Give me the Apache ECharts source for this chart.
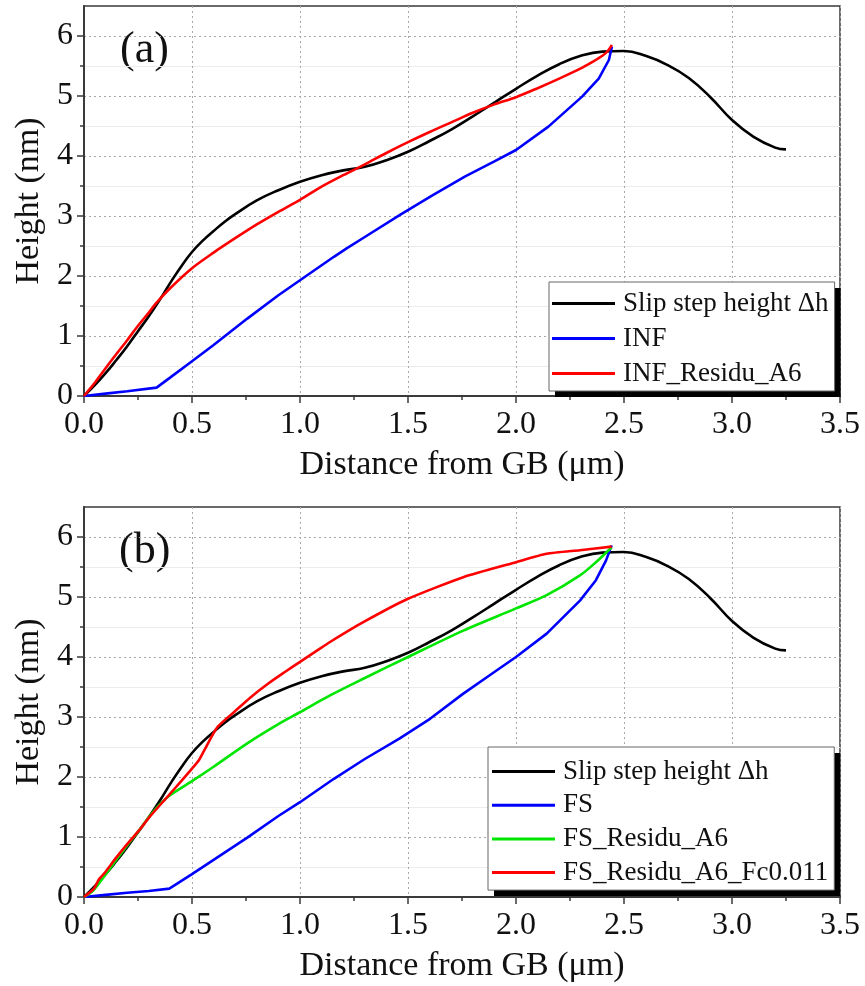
<!DOCTYPE html>
<html><head><meta charset="utf-8">
<script src="https://cdn.jsdelivr.net/npm/echarts@6/dist/echarts.min.js"></script>
<style>html,body{margin:0;padding:0;background:#fff}#c{width:865px;height:986px}</style>
</head><body><div id="c"></div>
<script>
// ---- data ----
const xTicks = [0, 0.5, 1.0, 1.5, 2.0, 2.5, 3.0, 3.5];
const yTicks = [0, 1, 2, 3, 4, 5, 6];
const panelLabels = ['(a)', '(b)'];
const xName = 'Distance from GB (\u03bcm)';
const yName = 'Height (nm)';
const namesA = ['Slip step height \u0394h', 'INF', 'INF_Residu_A6'];
const namesB = ['Slip step height \u0394h', 'FS', 'FS_Residu_A6', 'FS_Residu_A6_Fc0.011'];

const slipStep = [[0,0],[0.05,0.18],[0.1,0.38],[0.15,0.6],[0.2,0.83],[0.25,1.08],[0.3,1.33],[0.35,1.6],[0.4,1.89],[0.45,2.16],[0.5,2.4],[0.55,2.59],[0.6,2.75],[0.65,2.9],[0.7,3.03],[0.8,3.26],[0.9,3.43],[1.0,3.57],[1.1,3.68],[1.2,3.76],[1.3,3.82],[1.4,3.93],[1.5,4.07],[1.6,4.25],[1.7,4.44],[1.8,4.66],[1.9,4.89],[2.0,5.12],[2.1,5.34],[2.2,5.53],[2.3,5.67],[2.4,5.74],[2.5,5.75],[2.6,5.67],[2.7,5.52],[2.8,5.3],[2.9,4.98],[3.0,4.6],[3.1,4.32],[3.2,4.14],[3.25,4.11]];

const inf = [[0,0],[0.1,0.04],[0.2,0.08],[0.336,0.14],[0.4,0.31],[0.5,0.58],[0.6,0.85],[0.756,1.29],[0.9,1.68],[1.0,1.93],[1.157,2.32],[1.216,2.46],[1.3,2.65],[1.463,3.02],[1.611,3.34],[1.765,3.66],[1.9,3.91],[2.0,4.1],[2.15,4.49],[2.306,4.99],[2.383,5.29],[2.43,5.6],[2.444,5.82]];

const infResidu = [[0,0],[0.05,0.22],[0.093,0.43],[0.15,0.7],[0.2,0.93],[0.25,1.17],[0.3,1.39],[0.332,1.54],[0.4,1.8],[0.5,2.13],[0.6,2.39],[0.7,2.63],[0.8,2.86],[0.9,3.07],[1.0,3.27],[1.1,3.49],[1.2,3.68],[1.3,3.86],[1.4,4.05],[1.5,4.23],[1.6,4.4],[1.7,4.56],[1.8,4.72],[1.9,4.86],[2.0,4.98],[2.1,5.13],[2.2,5.29],[2.3,5.46],[2.35,5.56],[2.4,5.67],[2.425,5.75],[2.444,5.85]];

const fs = [[0,0],[0.1,0.035],[0.2,0.07],[0.3,0.1],[0.395,0.14],[0.5,0.38],[0.6,0.62],[0.756,0.99],[0.9,1.35],[1.0,1.58],[1.157,1.97],[1.3,2.3],[1.46,2.64],[1.602,2.97],[1.756,3.39],[1.9,3.75],[2.0,4.0],[2.142,4.39],[2.296,4.94],[2.37,5.28],[2.417,5.61],[2.443,5.86]];

const fsResidu = [[0,0],[0.04,0.1],[0.08,0.28],[0.15,0.62],[0.2,0.86],[0.255,1.11],[0.3,1.33],[0.355,1.56],[0.4,1.7],[0.5,1.93],[0.6,2.17],[0.756,2.56],[0.9,2.88],[1.0,3.08],[1.139,3.36],[1.3,3.65],[1.5,4.0],[1.756,4.44],[2.0,4.81],[2.142,5.03],[2.296,5.36],[2.37,5.58],[2.443,5.83]];

const fsResiduFc = [[0,0],[0.046,0.14],[0.07,0.3],[0.093,0.39],[0.15,0.66],[0.2,0.88],[0.255,1.11],[0.3,1.32],[0.386,1.67],[0.45,1.93],[0.5,2.14],[0.53,2.27],[0.556,2.44],[0.617,2.83],[0.694,3.08],[0.772,3.33],[0.85,3.55],[0.93,3.75],[1.0,3.92],[1.08,4.11],[1.139,4.25],[1.293,4.58],[1.5,4.97],[1.756,5.33],[2.0,5.58],[2.142,5.72],[2.296,5.78],[2.443,5.84]];

// ---- chart ----
const FONT = 'Liberation Serif';
const AX = '#3a3a3a';
const grids = [
  {left: 84, top: 6, width: 756, height: 390, show: true, borderColor: AX, borderWidth: 1.5, backgroundColor: 'transparent'},
  {left: 84, top: 507, width: 756, height: 390, show: true, borderColor: AX, borderWidth: 1.5, backgroundColor: 'transparent'}
];
function xAxis(g) {
  return {
    type: 'value', gridIndex: g, min: 0, max: 3.5, interval: 0.5,
    name: xName, nameLocation: 'middle', nameGap: 52,
    nameTextStyle: {fontFamily: FONT, fontSize: 34, color: '#111'},
    axisLine: {show: true, onZero: false, lineStyle: {color: AX, width: 2}},
    axisTick: {show: true, inside: false, length: 7, customValues: xTicks, lineStyle: {color: AX, width: 1.5}},
    minorTick: {show: true, splitNumber: 2, length: 4, lineStyle: {color: AX, width: 1.5}},
    axisLabel: {fontFamily: FONT, fontSize: 32, color: '#111', margin: 13, customValues: xTicks,
      formatter: v => v.toFixed(1)},
    splitLine: {show: true, lineStyle: {type: [2, 3], color: '#a8a8a8', width: 1}}
  };
}
function yAxis(g) {
  return {
    type: 'value', gridIndex: g, min: 0, max: 6.5, interval: 1,
    name: yName, nameLocation: 'middle', nameGap: 38,
    nameTextStyle: {fontFamily: FONT, fontSize: 34, color: '#111'},
    axisLine: {show: true, onZero: false, lineStyle: {color: AX, width: 2}},
    axisTick: {show: true, inside: false, length: 7, customValues: yTicks, lineStyle: {color: AX, width: 1.5}},
    minorTick: {show: true, splitNumber: 2, length: 4, lineStyle: {color: AX, width: 1.5}},
    axisLabel: {fontFamily: FONT, fontSize: 32, color: '#111', margin: 11, customValues: yTicks},
    splitLine: {show: true, lineStyle: {type: [2, 3], color: '#a8a8a8', width: 1}},
    minorSplitLine: {show: true, lineStyle: {color: '#ececec', width: 1}}
  };
}
function line(name, data, color, g, smooth) {
  return {
    type: 'line', name: name, data: data, xAxisIndex: g, yAxisIndex: g,
    symbol: 'none', smooth: smooth, showSymbol: false,
    lineStyle: {color: color, width: 2.6}, itemStyle: {color: color},
    emphasis: {disabled: true}, animation: false
  };
}
function legend(names, left, top, gap, pad, shadow) {
  const l = {
    data: names, orient: 'vertical', left: left, top: top,
    icon: 'rect', itemWidth: 63, itemHeight: 3, itemGap: gap, padding: pad,
    selectedMode: false, z: shadow ? 3 : 6,
    textStyle: {fontFamily: FONT, fontSize: 27, color: '#111', padding: [0, 0, 0, 3]}
  };
  if (shadow) {
    l.backgroundColor = '#000';
    l.borderWidth = 0;
    l.textStyle.color = '#000';
    l.itemStyle = {color: '#000', borderWidth: 0};
  } else {
    l.backgroundColor = '#fff';
    l.borderColor = '#666';
    l.borderWidth = 1;
  }
  return l;
}
const option = {
  animation: false,
  backgroundColor: '#fff',
  grid: grids,
  xAxis: [xAxis(0), xAxis(1)],
  yAxis: [yAxis(0), yAxis(1)],
  legend: [
    legend(namesA, 555, 288, 8, [8, 6, 4, 3], true),
    legend(namesB, 494, 753, 6.7, [11, 6, 4, 4], true),
    legend(namesA, 549, 282, 8, [8, 6, 4, 3], false),
    legend(namesB, 488, 747, 6.7, [11, 6, 4, 4], false)
  ],
  graphic: [
    {type: 'text', left: 120, top: 28, style: {text: panelLabels[0], font: '44px "' + FONT + '"', fill: '#111'}},
    {type: 'text', left: 119, top: 529, style: {text: panelLabels[1], font: '44px "' + FONT + '"', fill: '#111'}}
  ],
  series: [
    line(namesA[0], slipStep, '#000000', 0, 0.45),
    line(namesA[1], inf, '#0000ff', 0, false),
    line(namesA[2], infResidu, '#ff0000', 0, 0.3),
    line(namesB[0], slipStep, '#000000', 1, 0.45),
    line(namesB[1], fs, '#0000ff', 1, false),
    line(namesB[2], fsResidu, '#00e600', 1, 0.3),
    line(namesB[3], fsResiduFc, '#ff0000', 1, 0.2)
  ]
};
const chart = echarts.init(document.getElementById('c'), null, {renderer: 'canvas'});
chart.setOption(option);
</script>
</body></html>
